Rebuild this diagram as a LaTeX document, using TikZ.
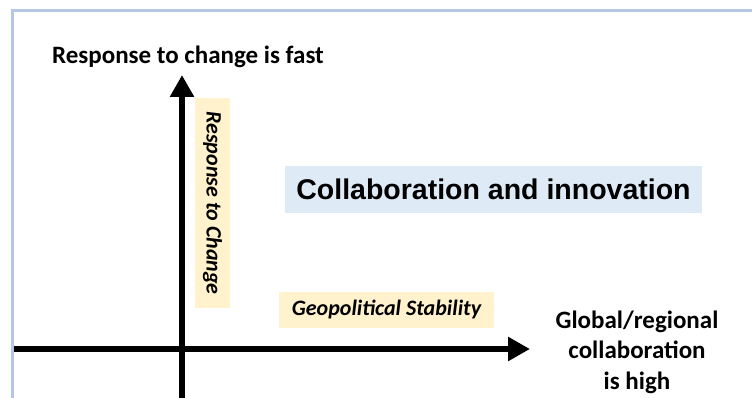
\documentclass[tikz,border=0pt]{standalone}
\usepackage{fontspec}
\setmainfont{Carlito}
\newfontfamily\arialfont{Liberation Sans}
\usetikzlibrary{arrows.meta,positioning}
\definecolor{framebl}{HTML}{B4C7E7}
\definecolor{noteyel}{HTML}{FFF2CC}
\definecolor{titlebl}{HTML}{DEEBF7}
\begin{document}
\begin{tikzpicture}[x=1pt,y=-1pt,
  axis/.style={line width=6pt, -{Triangle[width=23pt,length=22pt]}},
  lbl/.style={font=\fontsize{25}{30.5}\selectfont\bfseries, align=center, inner sep=0pt},
  note/.style={fill=noteyel, font=\fontsize{22}{26}\selectfont\bfseries\itshape, inner sep=0pt}]
\useasboundingbox (0,0) rectangle (752,398);
\draw[framebl, line width=3pt] (12,400) -- (12,11) -- (754,11);
\coordinate (xs) at (14,349);
\coordinate (xe) at (530,349);
\coordinate (ys) at (182,400);
\coordinate (ye) at (182,75);
\draw[axis] (xs) -- (xe);
\draw[axis] (ys) -- (ye);
\node[lbl] (ytitle) at (188,57) {Response to change is fast};
\node[lbl] (xtitle) at (637,352) {Global/regional\\collaboration\\is high};
\node[note, minimum width=210pt, minimum height=35pt, rotate=-90] (ynote) at (212.5,203) {Response to Change};
\node[note, minimum width=215pt, minimum height=36pt] (xnote) at (386.5,310) {Geopolitical Stability};
\node[fill=titlebl, minimum width=417pt, minimum height=47pt, inner sep=0pt, font=\arialfont\fontsize{28.5}{34}\selectfont\bfseries] (quad) at (493.5,189.5) {Collaboration and innovation};
\end{tikzpicture}
\end{document}
